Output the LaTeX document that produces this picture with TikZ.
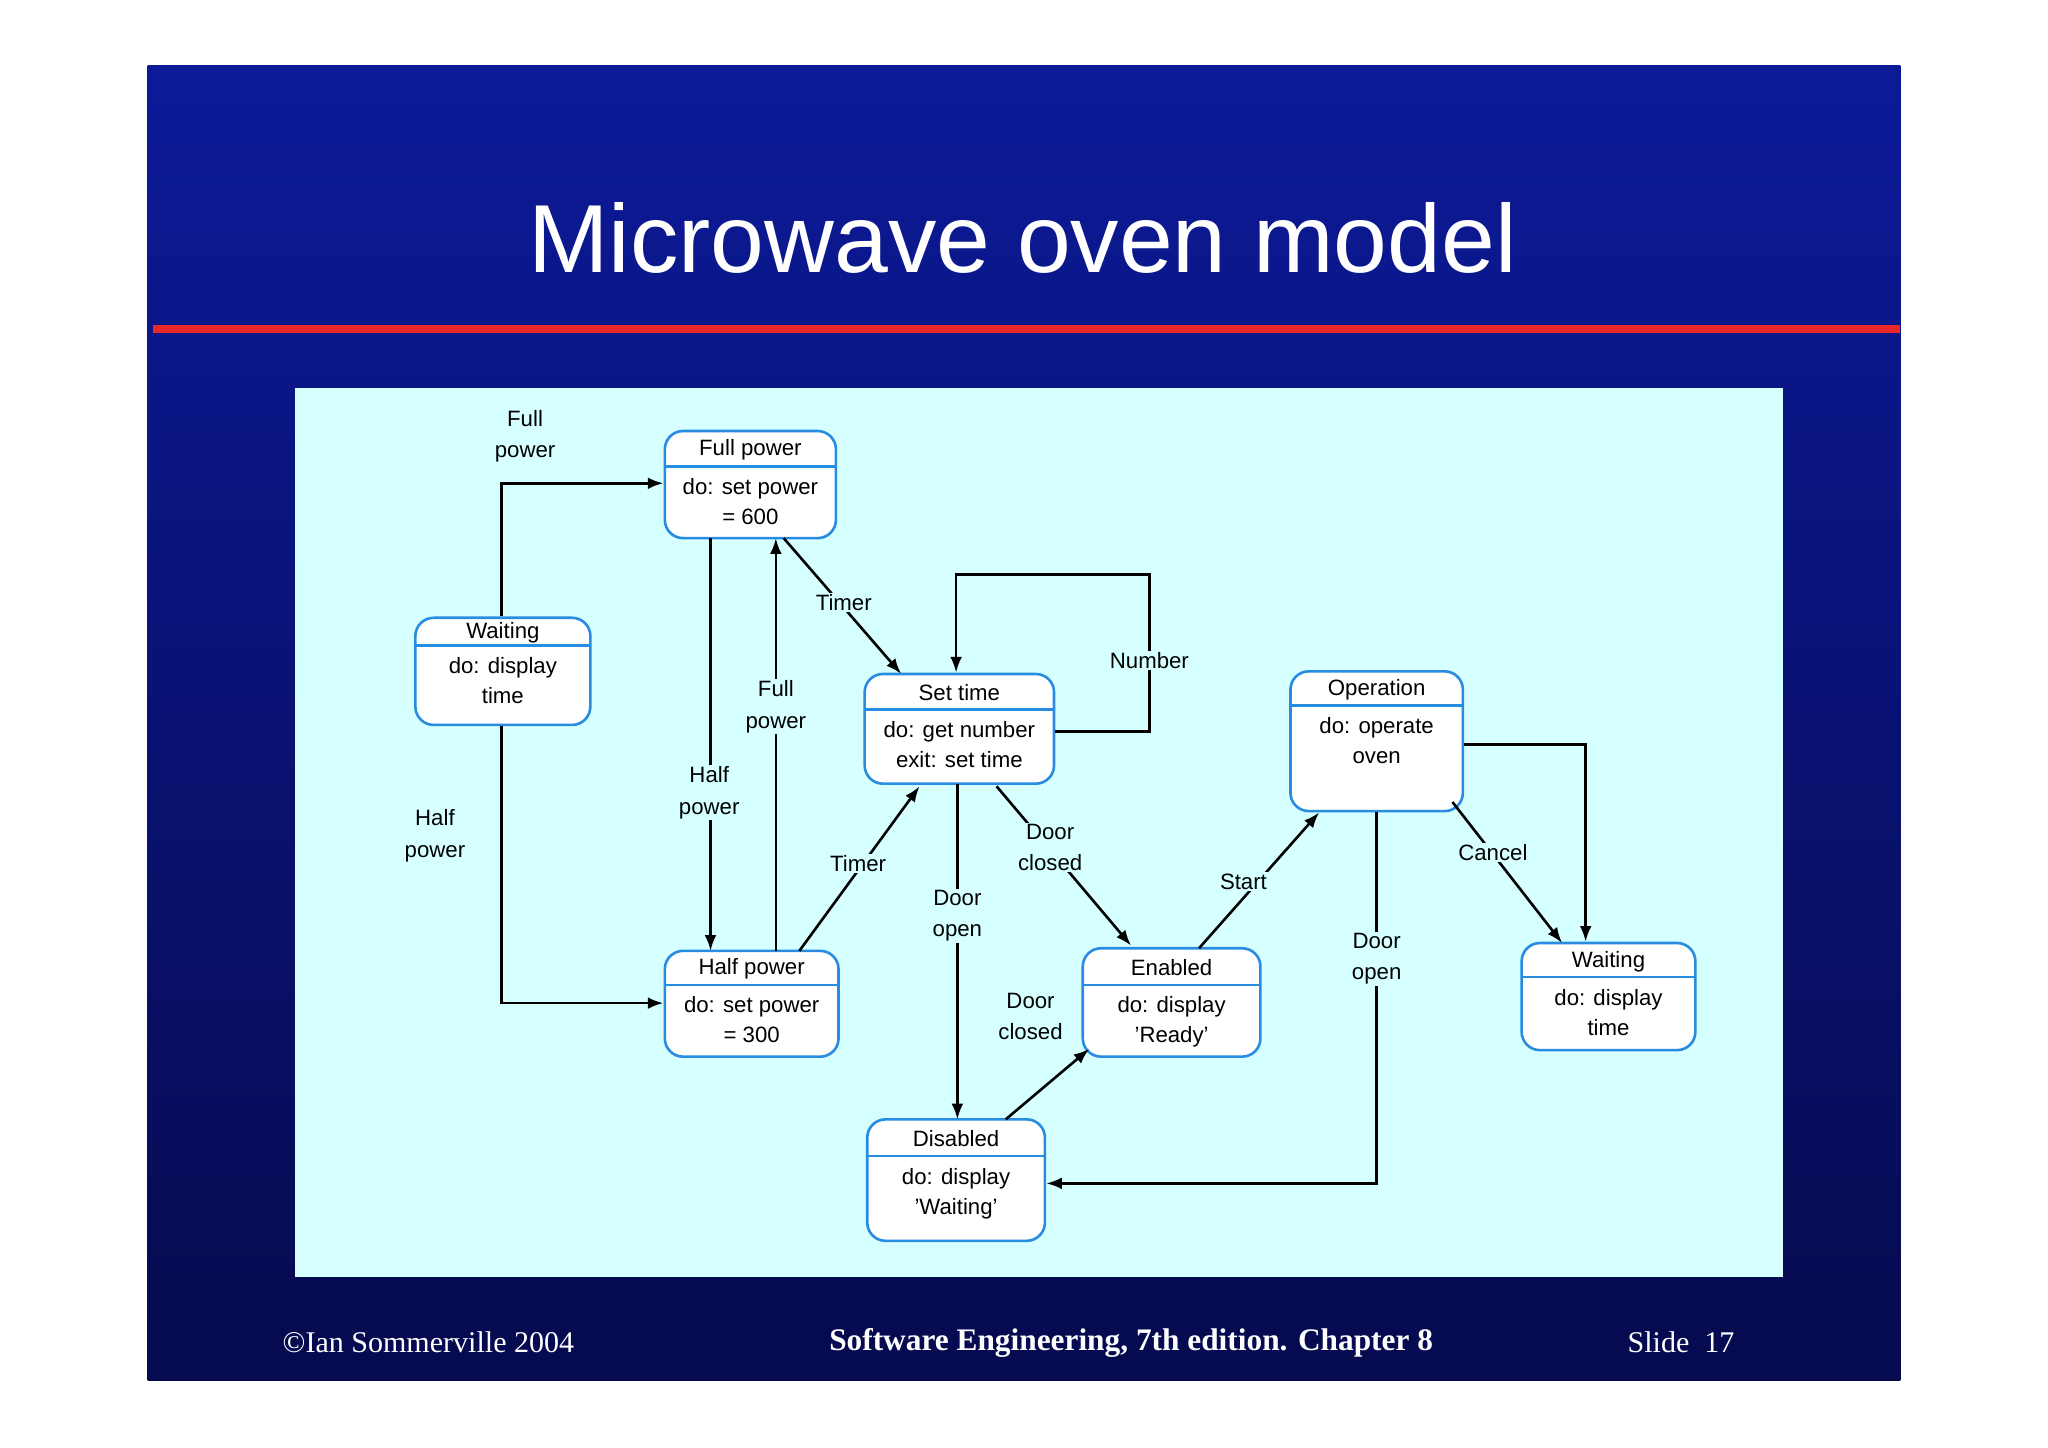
\documentclass[tikz,border=0pt]{standalone}
\usepackage{fontspec}
\setmainfont{Liberation Sans}
\newfontfamily\tms{Liberation Serif}
\usetikzlibrary{calc,arrows.meta}
\definecolor{slidetop}{RGB}{12,26,152}
\definecolor{slidebot}{RGB}{6,10,78}
\definecolor{panel}{RGB}{214,255,255}
\definecolor{sb}{RGB}{40,140,225}
\definecolor{redline}{RGB}{235,40,40}
\tikzset{
 statebox/.style={draw=sb, fill=white, line width=2pt, rounded corners=14pt, inner sep=0pt},
 sbord/.style={draw=sb, line width=2pt},
 stt/.style={font=\fontsize{17}{20}\selectfont, inner sep=0pt},
 stb/.style={font=\fontsize{17}{23}\selectfont, align=center, inner sep=2pt},
 conn/.style={draw=black, line width=2pt, -{Latex[length=12pt,width=9pt]}},
 lbl/.style={font=\fontsize{17}{24}\selectfont, align=center, fill=panel, inner sep=1pt},
 foot/.style={font=\tms\fontsize{23}{26}\selectfont, text=white}
}
\newcommand{\mkstate}[8]{%
 \node[statebox, minimum width={#4-#2}, minimum height={#5-#3}] (#1) at ({(#2+#4)/2},{(#3+#5)/2}) {};
 \draw[sbord] (#2,#6) -- (#4,#6);
 \node[stt] at ({(#2+#4)/2},{(#3+#6)/2+1}) {#7};
 \node[stb, anchor=north] at ({(#2+#4)/2},{#6+7}) {#8};}
\begin{document}
\begin{tikzpicture}[x=1pt,y=-1pt]
\useasboundingbox[fill=white] (0,0) rectangle (1568,1108);
\shade[top color=slidetop, bottom color=slidebot] (113,50) rectangle (1455,1057);
\fill[redline] (117,249) rectangle (1455,255);
\node[text=white, font=\fontsize{74}{76}\selectfont] (title) at (783,182) {Microwave oven model};
\fill[panel] (226,297) rectangle (1365,978);
\node[foot] (f1) at (328,1028) {©Ian Sommerville 2004};
\node[foot, font=\tms\bfseries\fontsize{24}{26}\selectfont] (f2) at (866,1028) {Software Engineering, 7th edition. Chapter 8};
\node[foot] (f3) at (1287,1028) {Slide\ \ 17};

\coordinate (c1) at (384,370); \coordinate (c2) at (384,768);
\coordinate (c3) at (880,560); \coordinate (c4) at (880,440); \coordinate (c5) at (732,440);
\coordinate (c6) at (1054,906); \coordinate (c7) at (1214,570);

\mkstate{fp}{509}{330}{640}{412}{357}{Full power}{do: set power\\= 600}
\mkstate{wl}{318}{473}{452}{555}{494}{Waiting}{do: display\\time}
\mkstate{st}{662}{516}{807}{600}{543}{Set time}{do: get number\\exit: set time}
\mkstate{op}{988}{514}{1120}{621}{540}{Operation}{do: operate\\oven}
\mkstate{hp}{509}{728}{642}{809}{754}{Half power}{do: set power\\= 300}
\mkstate{en}{829}{726}{965}{809}{754}{Enabled}{do: display\\'Ready'}
\mkstate{wr}{1165}{722}{1298}{804}{748}{Waiting}{do: display\\time}
\mkstate{di}{664}{857}{800}{950}{885}{Disabled}{do: display\\'Waiting'}

\draw[conn] (wl.north -| c1) -- (c1) -- (fp.west |- c1);
\draw[conn] (wl.south -| c2) -- (c2) -- (hp.west |- c2);
\draw[conn] (544,412) -- (544,728);
\draw[conn] (594,728) -- (594,412);
\draw[conn] (600,412) -- (690,516);
\draw[conn] (612,728) -- (704,602);
\draw[conn] (st.east |- c3) -- (c3) -- (c4) -- (c5) -- (c5 |- st.north);
\draw[conn] (733,600) -- (733,857);
\draw[conn] (763,602) -- (866,724);
\draw[conn] (918,726) -- (1010,622);
\draw[conn] (770,857) -- (834,803);
\draw[conn] (op.south -| c6) -- (c6) -- (di.east |- c6);
\draw[conn] (op.east |- c7) -- (c7) -- (c7 |- wr.north);
\draw[conn] (1112,614) -- (1196,722);

\node[lbl] (l1) at (402,334) {Full\\power};
\node[lbl] (l2) at (333,640) {Half\\power};
\node[lbl] (l3) at (543,607) {Half\\power};
\node[lbl] (l4) at (594,541) {Full\\power};
\node[lbl] (l5) at (646,461) {Timer};
\node[lbl] (l6) at (657,661) {Timer};
\node[lbl] (l7) at (880,506) {Number};
\node[lbl] (l8) at (733,701) {Door\\open};
\node[lbl] (l9) at (804,649) {Door\\closed};
\node[lbl] (l10) at (952,675) {Start};
\node[lbl] (l11) at (789,778) {Door\\closed};
\node[lbl] (l12) at (1054,734) {Door\\open};
\node[lbl] (l13) at (1143,653) {Cancel};
\end{tikzpicture}
\end{document}
